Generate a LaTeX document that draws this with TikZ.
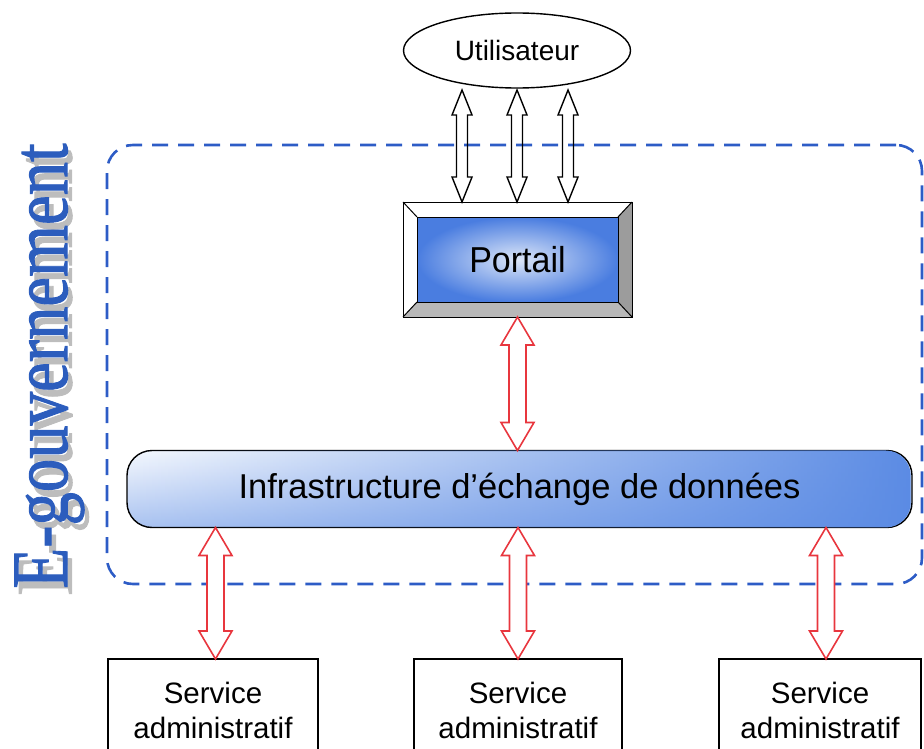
\documentclass[tikz,border=0pt]{standalone}
\usepackage{fontspec}
\setmainfont{Liberation Sans}
\newfontfamily\serifface{Liberation Serif}[BoldFont=Liberation Serif, BoldFeatures={FakeBold=1.3}]
\usetikzlibrary{shapes.geometric,calc,fadings}

\definecolor{egovblue}{HTML}{2C5DBD}
\definecolor{egovshadow}{HTML}{BDBDBD}
\definecolor{frameblue}{HTML}{2D5CC6}
\definecolor{arrowred}{HTML}{E8363E}
\definecolor{portalblue}{HTML}{4A7DE0}
\definecolor{portallight}{HTML}{DCE6F8}
\definecolor{infrablue}{HTML}{5B8BE4}
\definecolor{infralight}{HTML}{F6F9FE}
\definecolor{infrabottom}{HTML}{A9C3F1}
\definecolor{bevelright}{HTML}{9C9C9C}
\definecolor{bevelbottom}{HTML}{B8B8B8}

% transparent on the left, opaque on the right
\tikzfading[name=rightopaque, left color=transparent!100, right color=transparent!0]

% hollow double-headed vertical arrow between two points
% #1 style, #2 upper point, #3 lower point, #4 half shaft, #5 half head, #6 head length
\newcommand\hollowdarrow[6]{%
  \draw[#1] let \p1=#2, \p2=#3 in
    (\x1,\y1) -- (\x1+#5,\y1-#6) -- (\x1+#4,\y1-#6) -- (\x1+#4,\y2+#6)
    -- (\x1+#5,\y2+#6) -- (\x1,\y2) -- (\x1-#5,\y2+#6) -- (\x1-#4,\y2+#6)
    -- (\x1-#4,\y1-#6) -- (\x1-#5,\y1-#6) -- cycle;}

\tikzset{
  boxline/.style={draw=black, line width=1.4pt},
  whitearrow/.style={draw=black, line width=1.4pt, line join=miter},
  redarrow/.style={draw=arrowred, fill=white, line width=1.6pt, line join=miter},
  servicebox/.style={boxline, fill=white, minimum height=110pt, anchor=north, outer sep=0pt},
  servicetext/.style={align=center, font=\fontsize{29.5}{35}\selectfont},
  bevel/.style={draw=black, line width=1pt, line join=miter},
  titlefont/.style={rotate=90, anchor=base, font=\serifface\bfseries\fontsize{80}{80}\selectfont},
}

\begin{document}
\begin{tikzpicture}[x=1pt,y=-1pt]
\useasboundingbox (0,0) rectangle (924,749);

% side title with its grey shadow
\node[titlefont, text=egovshadow] (titleshadow) at (71.5,373) {\scalebox{0.835}[1]{E-gouvernement}};
\node[titlefont, text=egovblue] (title) at (67,366) {\scalebox{0.835}[1]{E-gouvernement}};

% e-government perimeter
\node[draw=frameblue, line width=2.6pt, dash pattern=on 16pt off 10pt,
      rounded corners=26pt, minimum width=815pt, minimum height=439pt, outer sep=0pt]
  (egov) at (514.5,364.5) {};

% user
\node[ellipse, boxline, fill=white, minimum width=227pt, minimum height=75pt, inner sep=0pt,
      outer sep=0pt, font=\fontsize{28}{30}\selectfont]
  (util) at (517,50.5) {Utilisateur};

% portal with bevelled frame
\node[draw=black, line width=1pt, fill=white, minimum width=229pt, minimum height=115pt, outer sep=0pt]
  (portal) at (517.5,259.5) {};
\node[minimum width=201pt, minimum height=85pt, outer sep=0pt,
      inner color=portallight, outer color=portalblue]
  (portalin) at (517.5,259.5) {};
\fill[bevelright] (portal.north east) -- (portal.south east) -- (portalin.south east) -- (portalin.north east) -- cycle;
\fill[bevelbottom] (portal.south west) -- (portal.south east) -- (portalin.south east) -- (portalin.south west) -- cycle;
\draw[bevel] (portal.north west) rectangle (portal.south east);
\draw[bevel] (portalin.north west) rectangle (portalin.south east);
\draw[bevel] (portal.north west) -- (portalin.north west)
             (portal.north east) -- (portalin.north east)
             (portal.south west) -- (portalin.south west)
             (portal.south east) -- (portalin.south east);
\node[font=\fontsize{34}{36}\selectfont] (portaltext) at (portalin.center) {\scalebox{1}[1.06]{Portail}};

% data exchange infrastructure
\node[boxline, rounded corners=25pt, minimum width=785pt, minimum height=77pt, outer sep=0pt,
      top color=infralight, bottom color=infrabottom,
      postaction={fill=infrablue, path fading=rightopaque},
      font=\fontsize{34.5}{36}\selectfont]
  (infra) at (519.5,489) {Infrastructure d’échange de données};

% administrative services
\node[servicebox, minimum width=210pt] (s1) at (213,659) {};
\node[servicebox, minimum width=208pt] (s2) at (518,659) {};
\node[servicebox, minimum width=202pt] (s3) at (820,659) {};
\node[servicetext] (s1t) at ($(s1.north)+(0,51)$) {Service\\administratif};
\node[servicetext] (s2t) at ($(s2.north)+(0,51)$) {Service\\administratif};
\node[servicetext] (s3t) at ($(s3.north)+(0,51)$) {Service\\administratif};

% user <-> portal
\hollowdarrow{whitearrow}{([xshift=-55pt,yshift=-2pt]util.south)}{([xshift=-55pt]portal.north)}{5.5pt}{10pt}{25pt}
\hollowdarrow{whitearrow}{([yshift=-2pt]util.south)}{(portal.north)}{5.5pt}{10pt}{25pt}
\hollowdarrow{whitearrow}{([xshift=51pt,yshift=-2pt]util.south)}{([xshift=51pt]portal.north)}{5.5pt}{10pt}{25pt}

% portal <-> infrastructure
\hollowdarrow{redarrow}{(portal.south)}{(infra.north -| portal.south)}{8.5pt}{16.5pt}{28pt}

% infrastructure <-> services
\hollowdarrow{redarrow}{([xshift=2.5pt]infra.south -| s1.north)}{([xshift=2.5pt]s1.north)}{8.5pt}{16.5pt}{28pt}
\hollowdarrow{redarrow}{(infra.south -| s2.north)}{(s2.north)}{8.5pt}{16.5pt}{28pt}
\hollowdarrow{redarrow}{([xshift=6pt]infra.south -| s3.north)}{([xshift=6pt]s3.north)}{8.5pt}{16.5pt}{28pt}
\end{tikzpicture}
\end{document}
